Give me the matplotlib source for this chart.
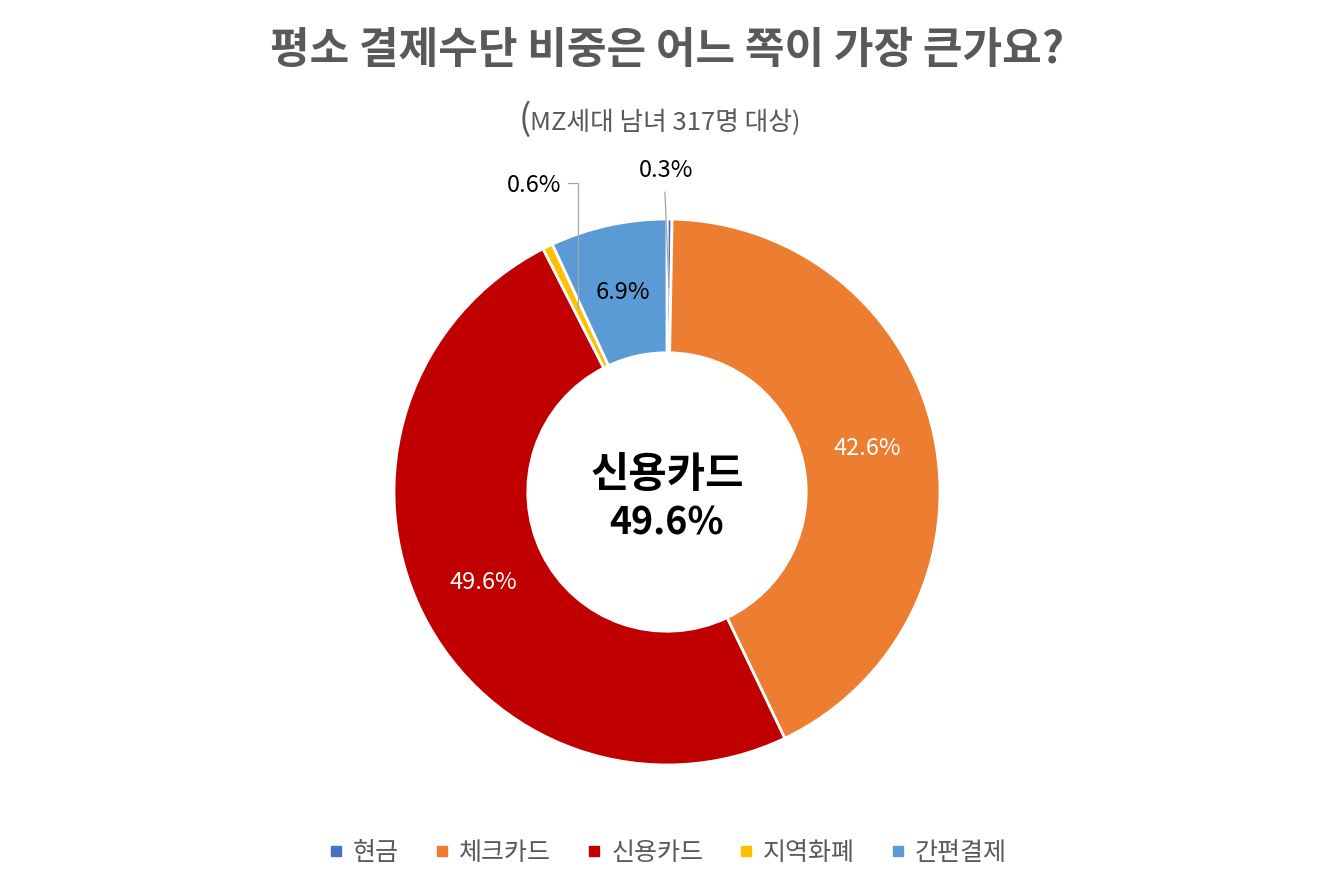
import numpy as np
import matplotlib
matplotlib.use("Agg")
import matplotlib.pyplot as plt
from matplotlib.lines import Line2D

plt.rcParams['font.family'] = ['Noto Sans CJK KR', 'DejaVu Sans']

labels = ['현금', '체크카드', '신용카드', '지역화폐', '간편결제']
values = [0.3, 42.6, 49.6, 0.6, 6.9]
colors = ['#4472C4', '#ED7D31', '#C00000', '#FFC000', '#5B9BD5']
title = '평소 결제수단 비중은 어느 쪽이 가장 큰가요?'
subtitle = 'MZ세대 남녀 317명 대상)'
center_name = '신용카드'
center_value = '49.6%'

W, H = 1334, 889
fig = plt.figure(figsize=(W / 100, H / 100), dpi=100)
ax = fig.add_axes([0, 0, 1, 1])

cx, cy, R = 667, H - 492, 273
wedges, _ = ax.pie(values, colors=colors, startangle=90, counterclock=False,
                   center=(cx, cy), radius=R, frame=True,
                   wedgeprops=dict(width=R * 0.49, edgecolor='white', linewidth=2))
ax.set_xlim(0, W)
ax.set_ylim(0, H)
ax.set_aspect('equal')
ax.axis('off')

text_colors = [None, 'white', 'white', None, 'black']
for w, v, tc in zip(wedges, values, text_colors):
    mid = np.deg2rad((w.theta1 + w.theta2) / 2)
    if tc is None:
        continue
    r = R * 0.75
    ax.text(cx + r * np.cos(mid), cy + r * np.sin(mid), f'{v:.1f}%',
            ha='center', va='center', fontsize=17, color=tc)

# small slices with leader lines
w = wedges[0]
mid = np.deg2rad((w.theta1 + w.theta2) / 2)
x0, y0 = cx + R * 0.75 * np.cos(mid), cy + R * 0.75 * np.sin(mid)
ax.plot([x0, x0 - 4], [y0, y0 + 95], color='#A6A6A6', lw=0.9)
ax.text(x0 - 3, y0 + 117, f'{values[0]:.1f}%', ha='center', va='center', fontsize=17)

w = wedges[3]
mid = np.deg2rad((w.theta1 + w.theta2) / 2)
x0, y0 = cx + R * 0.75 * np.cos(mid), cy + R * 0.75 * np.sin(mid)
ax.plot([x0, x0, x0 - 10], [y0, y0 + 125, y0 + 125], color='#A6A6A6', lw=0.9)
ax.text(x0 - 16, y0 + 122, f'{values[3]:.1f}%', ha='right', va='center', fontsize=17)

ax.text(cx, cy + 17, center_name, ha='center', va='center', fontsize=30,
        fontweight='bold')
ax.text(cx, cy - 31, center_value, ha='center', va='center', fontsize=27,
        fontweight='bold')

fig.text(0.5, 1 - 50 / H, title, ha='center', va='center', fontsize=31,
         fontweight='bold', color='#595959')
fig.text(531 / W, 1 - 120 / H, '(', ha='right', va='center', fontsize=26,
         color='#595959')
fig.text(530 / W, 1 - 123 / H, subtitle, ha='left', va='center', fontsize=18.5,
         color='#595959')

handles = [Line2D([], [], marker='s', linestyle='', markersize=6.5, color=c)
           for c in colors]
fig.legend(handles, labels, loc='center', bbox_to_anchor=(0.5, 1 - 853 / H),
           ncol=5, frameon=False, fontsize=18, labelcolor='#595959',
           handletextpad=0.35, columnspacing=1.35, handlelength=0.7)

fig.savefig('out.png', dpi=100)
